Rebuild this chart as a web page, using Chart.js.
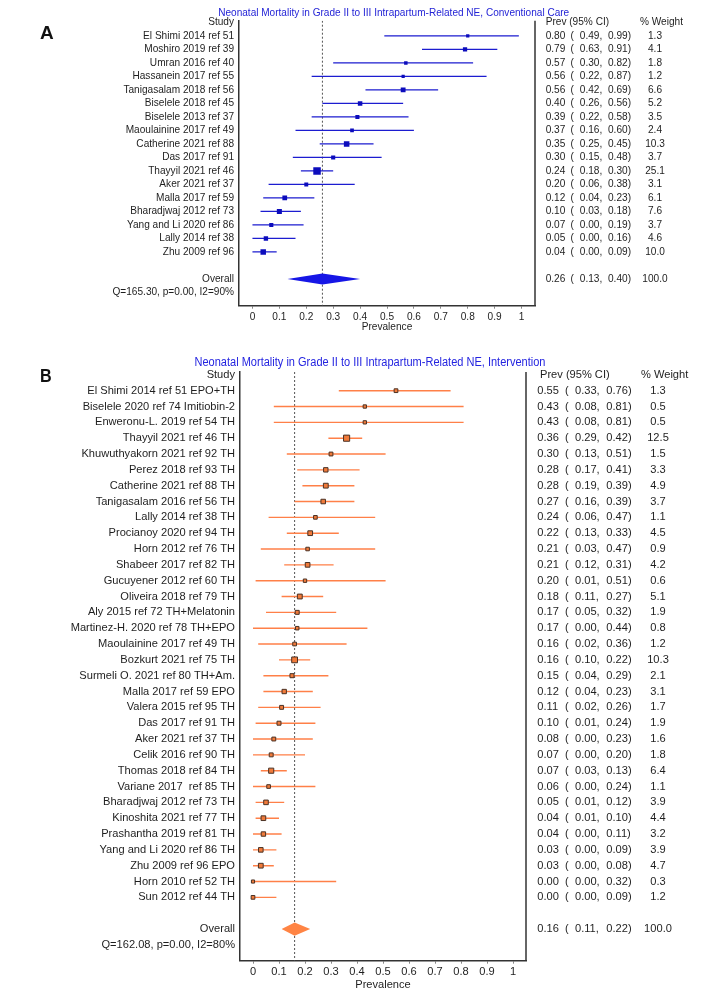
<!DOCTYPE html>
<html><head><meta charset="utf-8">
<script src="https://cdn.jsdelivr.net/npm/chart.js@4.4.1/dist/chart.umd.min.js"></script>
<style>
html,body{margin:0;padding:0;background:#fff;}
body{width:708px;height:1001px;position:relative;overflow:hidden;font-family:'Liberation Sans',Arial,sans-serif;}
canvas{position:absolute;left:0;}
#ca{top:0;}
#cb{top:340px;}
.plabel{position:absolute;font-weight:bold;color:#111;line-height:1;}
</style></head><body>
<canvas id="ca" width="708" height="340"></canvas>
<canvas id="cb" width="708" height="661"></canvas>
<div class="plabel" style="left:40px;top:23px;font-size:19px;">A</div>
<div class="plabel" style="left:40px;top:366px;font-size:19px;transform:scaleX(0.85);transform-origin:left top;">B</div>
<script>
// ---------------- DATA ----------------
const titleA = 'Neonatal Mortality in Grade II to III Intrapartum-Related NE, Conventional Care';
const studiesA = ['El Shimi 2014 ref 51','Moshiro 2019 ref 39','Umran 2016 ref 40','Hassanein 2017 ref 55','Tanigasalam 2018 ref 56','Biselele 2018 ref 45','Biselele 2013 ref 37','Maoulainine 2017 ref 49','Catherine 2021 ref 88','Das 2017 ref 91','Thayyil 2021 ref 46','Aker 2021 ref 37','Malla 2017 ref 59','Bharadjwaj 2012 ref 73','Yang and Li 2020 ref 86','Lally 2014 ref 38','Zhu 2009 ref 96'];
const prevA   = [0.80,0.79,0.57,0.56,0.56,0.40,0.39,0.37,0.35,0.30,0.24,0.20,0.12,0.10,0.07,0.05,0.04];
const lowA    = [0.49,0.63,0.30,0.22,0.42,0.26,0.22,0.16,0.25,0.15,0.18,0.06,0.04,0.03,0.00,0.00,0.00];
const highA   = [0.99,0.91,0.82,0.87,0.69,0.56,0.58,0.60,0.45,0.48,0.30,0.38,0.23,0.18,0.19,0.16,0.09];
const weightA = [1.3,4.1,1.8,1.2,6.6,5.2,3.5,2.4,10.3,3.7,25.1,3.1,6.1,7.6,3.7,4.6,10.0];
const overallA = [0.26,0.13,0.40];
const weightTotalA = '100.0';
const hetA = 'Q=165.30, p=0.00, I2=90%';

const titleB = 'Neonatal Mortality in Grade II to III Intrapartum-Related NE, Intervention';
const studiesB = ['El Shimi 2014 ref 51 EPO+TH','Biselele 2020 ref 74 Imitiobin-2','Enweronu-L. 2019 ref 54 TH','Thayyil 2021 ref 46 TH','Khuwuthyakorn 2021 ref 92 TH','Perez 2018 ref 93 TH','Catherine 2021 ref 88 TH','Tanigasalam 2016 ref 56 TH','Lally 2014 ref 38 TH','Procianoy 2020 ref 94 TH','Horn 2012 ref 76 TH','Shabeer 2017 ref 82 TH','Gucuyener 2012 ref 60 TH','Oliveira 2018 ref 79 TH','Aly 2015 ref 72 TH+Melatonin','Martinez-H. 2020 ref 78 TH+EPO','Maoulainine 2017 ref 49 TH','Bozkurt 2021 ref 75 TH','Surmeli O. 2021 ref 80 TH+Am.','Malla 2017 ref 59 EPO','Valera 2015 ref 95 TH','Das 2017 ref 91 TH','Aker 2021 ref 37 TH','Celik 2016 ref 90 TH','Thomas 2018 ref 84 TH','Variane 2017  ref 85 TH','Bharadjwaj 2012 ref 73 TH','Kinoshita 2021 ref 77 TH','Prashantha 2019 ref 81 TH','Yang and Li 2020 ref 86 TH','Zhu 2009 ref 96 EPO','Horn 2010 ref 52 TH','Sun 2012 ref 44 TH'];
const prevB   = [0.55,0.43,0.43,0.36,0.30,0.28,0.28,0.27,0.24,0.22,0.21,0.21,0.20,0.18,0.17,0.17,0.16,0.16,0.15,0.12,0.11,0.10,0.08,0.07,0.07,0.06,0.05,0.04,0.04,0.03,0.03,0.00,0.00];
const lowB    = [0.33,0.08,0.08,0.29,0.13,0.17,0.19,0.16,0.06,0.13,0.03,0.12,0.01,0.11,0.05,0.00,0.02,0.10,0.04,0.04,0.02,0.01,0.00,0.00,0.03,0.00,0.01,0.01,0.00,0.00,0.00,0.00,0.00];
const highB   = [0.76,0.81,0.81,0.42,0.51,0.41,0.39,0.39,0.47,0.33,0.47,0.31,0.51,0.27,0.32,0.44,0.36,0.22,0.29,0.23,0.26,0.24,0.23,0.20,0.13,0.24,0.12,0.10,0.11,0.09,0.08,0.32,0.09];
const weightB = [1.3,0.5,0.5,12.5,1.5,3.3,4.9,3.7,1.1,4.5,0.9,4.2,0.6,5.1,1.9,0.8,1.2,10.3,2.1,3.1,1.7,1.9,1.6,1.8,6.4,1.1,3.9,4.4,3.2,3.9,4.7,0.3,1.2];
const overallB = [0.16,0.11,0.22];
const weightTotalB = '100.0';
const hetB = 'Q=162.08, p=0.00, I2=80%';

const xTickValues = [0,0.1,0.2,0.3,0.4,0.5,0.6,0.7,0.8,0.9,1];
const xTickLabels = ['0','0.1','0.2','0.3','0.4','0.5','0.6','0.7','0.8','0.9','1'];
const headerLabels = ['Study','Prev (95% CI)','% Weight'];
const xAxisTitle = 'Prevalence';

// ---------------- RENDER ----------------
const FAMILY = "'Liberation Sans', Arial, sans-serif";
const TXT = '#1e1e1e';

function fmt(v){ return v.toFixed(2); }

function buildPanel(canvasId, d, s){
  const n = d.studies.length;
  const oRow = n + 2;
  const rowLabels = [headerLabels[0], ...d.studies, '', 'Overall', d.het];
  const ci = [];
  d.low.forEach((lo,i)=>{ ci.push({x:lo,y:i+1},{x:d.high[i],y:i+1},{x:NaN,y:NaN}); });
  const pts = d.prev.map((v,i)=>({x:v,y:i+1}));
  const radii = d.weight.map(w => (s.sBase + s.sK*Math.sqrt(w))/Math.SQRT2);
  const [oe, ol, oh] = d.overall;
  const diaTop = [{x:ol,y:oRow},{x:oe,y:oRow - s.diaH},{x:oh,y:oRow}];
  const diaBot = [{x:ol,y:oRow},{x:oe,y:oRow + s.diaH},{x:oh,y:oRow}];
  const vline = [{x:oe,y:s.yMin},{x:oe,y:s.yMax}];
  const font = {family:FAMILY, size:s.fs};

  const tablePlugin = {
    id:'table_'+canvasId,
    afterDraw(chart){
      const ctx = chart.ctx, ca = chart.chartArea, ys = chart.scales.y;
      ctx.save();
      ctx.strokeStyle = '#333'; ctx.lineWidth = 1.5;
      ctx.beginPath(); ctx.moveTo(ca.right, ca.top); ctx.lineTo(ca.right, ca.bottom); ctx.stroke();
      ctx.fillStyle = s.titleColor;
      ctx.font = s.titleFs + 'px ' + FAMILY;
      ctx.textBaseline = 'middle'; ctx.textAlign = 'center';
      const tw = ctx.measureText(d.title).width;
      ctx.save(); ctx.translate(s.titleX, s.titleY); ctx.scale(s.titleW / tw, 1);
      ctx.fillText(d.title, 0, 0); ctx.restore();
      ctx.fillStyle = TXT;
      ctx.font = s.fs + 'px ' + FAMILY;
      ctx.textBaseline = 'middle';
      const y0 = ys.getPixelForValue(0);
      ctx.textAlign = 'left';
      ctx.fillText(headerLabels[1], s.hPrevX, y0);
      ctx.fillText(headerLabels[2], s.hWX, y0);
      const rowText = (y, e, lo, hi, w) => {
        ctx.textAlign = 'left';
        ctx.fillText(fmt(e), s.cEst, y);
        ctx.fillText('(', s.cPar, y);
        ctx.fillText(fmt(lo) + ',', s.cLo, y);
        ctx.fillText(fmt(hi) + ')', s.cHi, y);
        ctx.textAlign = 'center';
        ctx.fillText(w, s.cW, y);
      };
      for (let i=0;i<n;i++){
        rowText(ys.getPixelForValue(i+1), d.prev[i], d.low[i], d.high[i], d.weight[i].toFixed(1));
      }
      rowText(ys.getPixelForValue(oRow), oe, ol, oh, d.wTotal);
      ctx.restore();
    }
  };

  return new Chart(document.getElementById(canvasId), {
    type:'line',
    data:{ datasets:[
      {data:vline, borderColor:'#555', borderWidth:1, borderDash:[2,2], pointRadius:0, fill:false, order:10},
      {data:ci, borderColor:s.lineColor, borderWidth:s.lw, pointRadius:0, spanGaps:false, fill:false, order:5},
      {data:diaTop, borderWidth:0, borderColor:'rgba(0,0,0,0)', pointRadius:0, fill:'+1', backgroundColor:s.diaColor, order:3},
      {data:diaBot, borderWidth:0, borderColor:'rgba(0,0,0,0)', pointRadius:0, fill:false, order:4},
      {data:pts, showLine:false, pointStyle:'rect', pointRadius:radii, pointHoverRadius:radii,
       pointBackgroundColor:s.ptColor, pointBorderColor:s.ptBorder, pointBorderWidth:s.ptBw, order:1}
    ]},
    options:{
      responsive:false, animation:false, devicePixelRatio:1, events:[],
      layout:{padding:{left:0, right:s.padR, top:s.padT, bottom:s.padB}},
      plugins:{legend:{display:false}, tooltip:{enabled:false}, title:{display:false}},
      scales:{
        x:{type:'linear', min:-0.05, max:1.05,
           afterBuildTicks:(sc)=>{ sc.ticks = xTickValues.map(v=>({value:v})); },
           afterFit:(sc)=>{ sc.height = s.xH; },
           ticks:{callback:(v,i)=>xTickLabels[i], font:font, color:TXT, padding:s.tickPad, maxRotation:0, autoSkip:false},
           grid:{display:true, drawOnChartArea:false, drawTicks:true, tickLength:3, color:'#888'},
           border:{display:true, color:'#333', width:1.5},
           title:{display:true, text:xAxisTitle, font:font, color:TXT, padding:0}},
        y:{type:'linear', reverse:true, min:s.yMin, max:s.yMax,
           afterBuildTicks:(sc)=>{ sc.ticks = rowLabels.map((_,i)=>({value:i})); },
           afterFit:(sc)=>{ sc.width = s.axL; },
           ticks:{callback:(v,i)=>rowLabels[i], autoSkip:false, font:font, color:TXT, padding:5},
           grid:{display:false, drawTicks:false, tickLength:0},
           border:{display:true, color:'#333', width:1.5}}
      }
    },
    plugins:[tablePlugin]
  });
}

buildPanel('ca',
  {title:titleA, studies:studiesA, prev:prevA, low:lowA, high:highA, weight:weightA, overall:overallA, wTotal:weightTotalA, het:hetA},
  {fs:10.1, titleFs:10.5, titleColor:'#2424d6', titleX:393.7, titleY:13.3, titleW:351,
   yMin:-0.13, yMax:20.98, padT:20.7, padB:6.8, xH:27.5, padR:173, axL:239, tickPad:2,
   lineColor:'#1c1cd0', lw:1.3, ptColor:'#0c0cbc', ptBorder:'#0c0cbc', ptBw:0, sBase:2, sK:1.1,
   diaColor:'#1616e6', diaH:0.41,
   hPrevX:545.7, hWX:640, cEst:545.7, cPar:570.6, cLo:579.8, cHi:608, cW:655});

buildPanel('cb',
  {title:titleB, studies:studiesB, prev:prevB, low:lowB, high:highB, weight:weightB, overall:overallB, wTotal:weightTotalB, het:hetB},
  {fs:11.1, titleFs:12, titleColor:'#2424e0', titleX:370, titleY:22.3, titleW:351,
   yMin:-0.18, yMax:37.0, padT:32, padB:9.4, xH:30.9, padR:182, axL:240, tickPad:2,
   lineColor:'#ff8048', lw:1.4, ptColor:'#f07a3a', ptBorder:'#4a3225', ptBw:1, sBase:2.6, sK:1.0,
   diaColor:'#ff8444', diaH:0.42,
   hPrevX:540, hWX:641, cEst:537.3, cPar:565, cLo:575, cHi:606.3, cW:658});
</script>
</body></html>
